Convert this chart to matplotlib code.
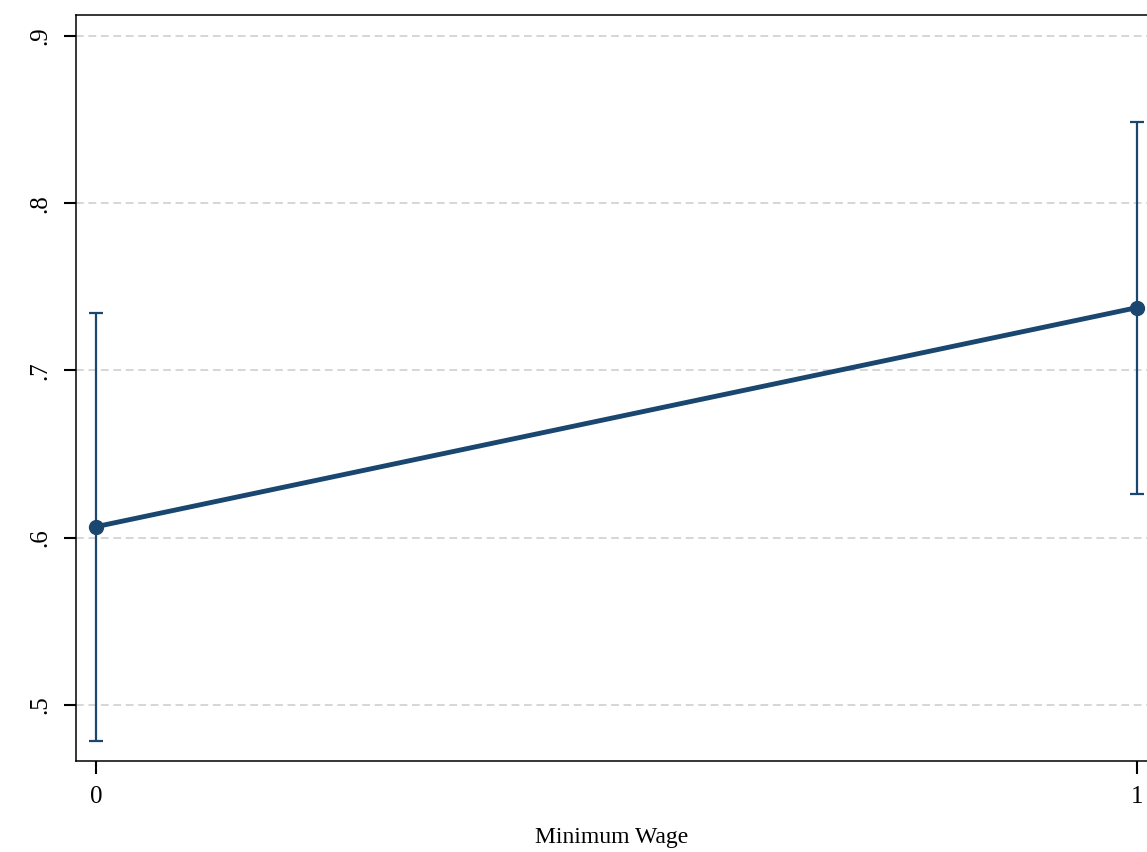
import matplotlib
matplotlib.use('Agg')
import matplotlib.pyplot as plt

plt.rcParams['font.family'] = ['Liberation Serif', 'DejaVu Serif']

# 数据
min_wage = [0, 1]
margin = [0.6066, 0.7376]
ci_low = [0.4785, 0.6262]
ci_high = [0.7342, 0.8486]
y_ticks = [0.5, 0.6, 0.7, 0.8, 0.9]
y_labels = ['.5', '.6', '.7', '.8', '.9']

navy = '#1a476f'

fig = plt.figure(figsize=(11.47, 8.52), dpi=100)
ax = fig.add_axes([0.0663, 0.1068, 0.9337, 0.8756])

# 置信区间
err_lo = [m - l for m, l in zip(margin, ci_low)]
err_hi = [h - m for m, h in zip(margin, ci_high)]
ax.errorbar(min_wage, margin, yerr=[err_lo, err_hi], fmt='none',
            ecolor=navy, elinewidth=1.6, capsize=4.8, capthick=1.6, zorder=3)
ax.plot(min_wage, margin, color=navy, linewidth=3.5, marker='o',
        markersize=10, zorder=4)

ax.set_xlim(-0.0192, 1.0096)
ax.set_ylim(0.4665, 0.91256)
ax.set_xticks(min_wage)
ax.set_xticklabels(['0', '1'])
ax.set_yticks(y_ticks)
ax.set_yticklabels(y_labels, rotation=90, va='center')

ax.grid(True, axis='y', linestyle=(0, (4, 2.4)), color='#d6d6d6', linewidth=1.4)
ax.set_axisbelow(True)
ax.spines['right'].set_visible(False)
for s in ['left', 'top', 'bottom']:
    ax.spines[s].set_linewidth(1.1)

ax.tick_params(axis='both', labelsize=18, length=9, width=1.5, pad=9)
ax.set_xlabel('Minimum Wage', fontsize=17, labelpad=14)

fig.savefig('out.png', dpi=100)
